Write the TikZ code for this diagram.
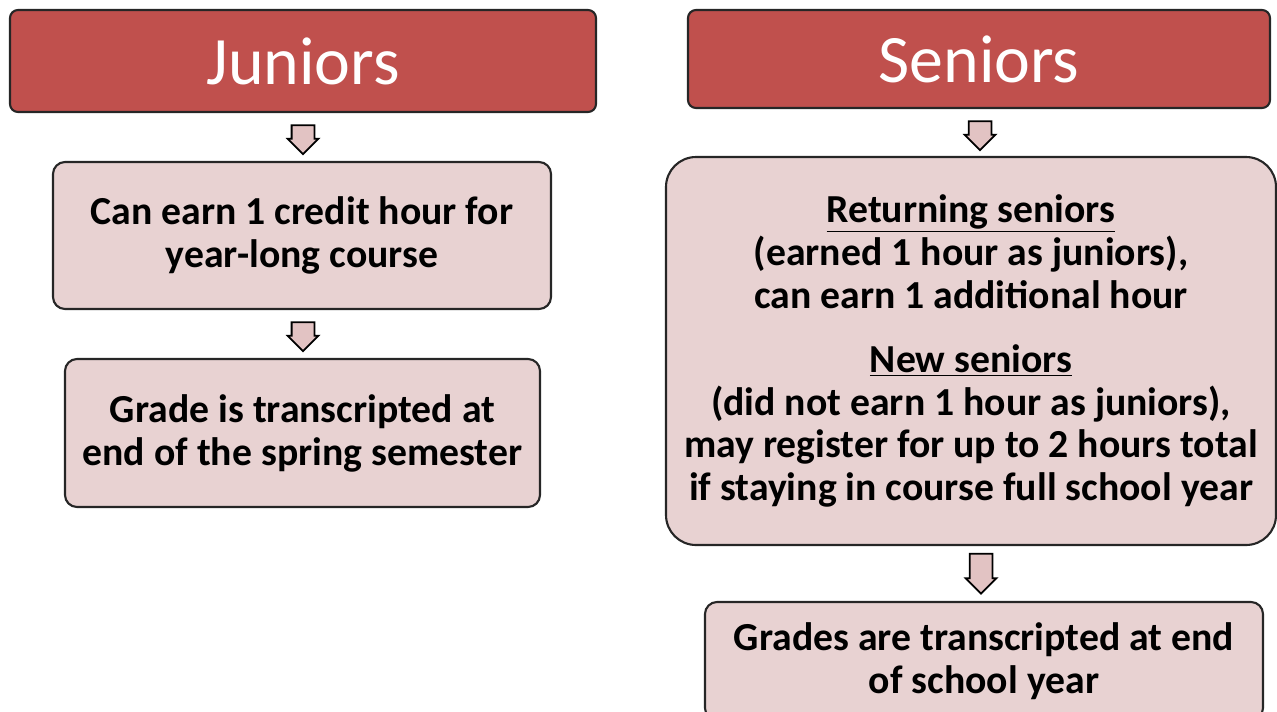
\documentclass[tikz,border=0pt]{standalone}
\usepackage{fontspec}
\setmainfont{Carlito}
\usepackage{xcolor}
\usetikzlibrary{shapes,arrows.meta,positioning,calc}
\definecolor{headred}{HTML}{C0504D}
\definecolor{boxpink}{HTML}{E8D2D2}
\definecolor{arrowpink}{HTML}{E2C3C3}

\begin{document}
\begin{tikzpicture}[
        header/.style={draw=black!85, line width=1.2pt, rounded corners=0.16cm, fill=headred,
            text=white, font=\fontsize{38.6}{44}\selectfont},
        infobox/.style={draw=black!85, line width=1.2pt, rounded corners=0.24cm, fill=boxpink,
            align=center, font=\fontsize{22.6}{24.4}\selectfont\bfseries},
        downarrow/.style={draw=black, line width=1pt, fill=arrowpink, single arrow,
            shape border rotate=270, single arrow head extend=0.08cm,
            inner xsep=0.21cm, inner ysep=0pt, minimum height=0.58cm}
    ]
            \useasboundingbox (0,0) rectangle (25.54,-14.22);

            % juniors
            \node[header, minimum width=11.72cm, minimum height=2.04cm] (jhead) at (6.06,-1.22) {Juniors};
            \node[infobox, minimum width=9.96cm, minimum height=2.94cm] (jone) at (6.04,-4.71)
                {Can earn 1 credit hour for\\year-long course};
            \node[infobox, minimum width=9.5cm, minimum height=2.96cm] (jtwo) at (6.05,-8.66)
                {Grade is transcripted at\\end of the spring semester};
            \node[downarrow] (ja1) at (6.06,-2.68) {};
            \node[downarrow] (ja2) at (6.06,-6.62) {};

            % seniors
            \node[header, minimum width=11.64cm, minimum height=1.96cm] (shead) at (19.58,-1.18) {Seniors};
            \node[infobox, rounded corners=0.6cm, minimum width=12.2cm, minimum height=7.76cm] (sone) at (19.42,-7.02)
                {\underline{Returning seniors}\\(earned 1 hour as juniors),\\can earn 1 additional hour\\[12pt]
                 \underline{New seniors}\\(did not earn 1 hour as juniors),\\may register for up to 2 hours total\\if staying in course full school year};
            \node[infobox, minimum width=11.16cm, minimum height=2.36cm] (stwo) at (19.68,-13.22)
                {Grades are transcripted at end\\of school year};
            \node[downarrow] (sa1) at (19.6,-2.6) {};
            \node[downarrow, minimum height=0.8cm] (sa2) at (19.62,-11.36) {};
        \end{tikzpicture}
\end{document}
